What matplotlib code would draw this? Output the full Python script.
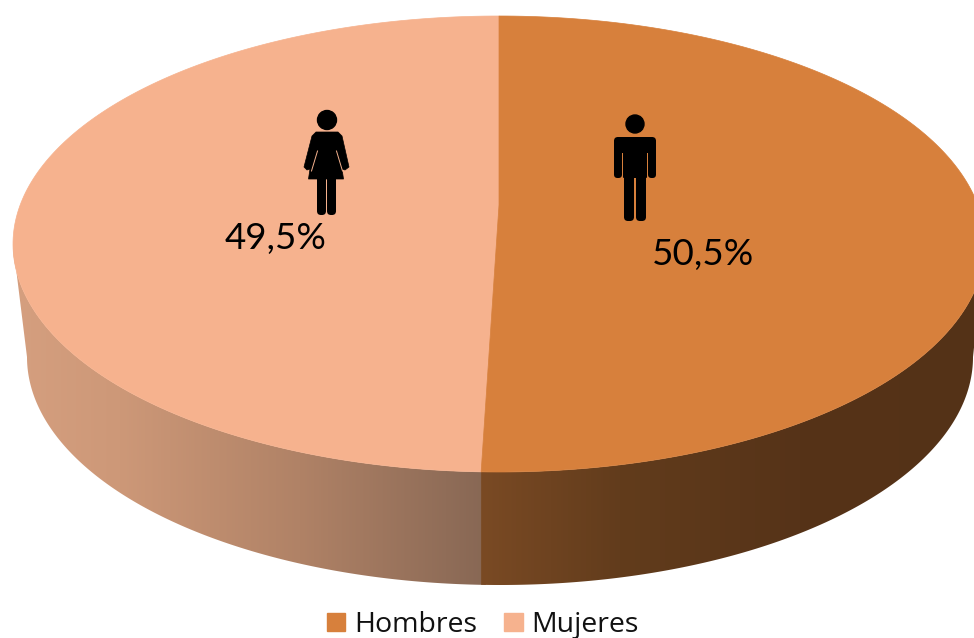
import numpy as np
from matplotlib import pyplot as plt
from matplotlib.patches import Circle, FancyBboxPatch, Polygon, Rectangle

categories = ['Hombres', 'Mujeres']
values = [50.5, 49.5]
labels = ['50,5%', '49,5%']
top_colors = ['#D7803C', '#F6B28E']

plt.rcParams['font.family'] = ['Lato', 'DejaVu Sans']

fig = plt.figure(figsize=(9.74, 6.38), dpi=100)
ax = fig.add_axes([0, 0, 1, 1])
ax.axis('off')

# pie geometry in pixels of the picture
cx, cy, rx, ry = 499, 244, 486, 228
apex_y = 205
low_cx, low_cy, low_rx = 500, 357, 473
persp = 1.17


def top_arc(a, b):
    t = np.linspace(a, b, 200)
    return np.column_stack([cx + rx * np.sin(t), cy - ry * np.cos(t)])


def low_arc(a, b):
    t = np.linspace(a, b, 200)
    return np.column_stack([low_cx + low_rx * np.sin(t), low_cy - ry * np.cos(t)])


# split angle, a bit wider at the front because of the perspective
split = np.pi + (values[0] / sum(values) * 2 * np.pi - np.pi) * persp
split_x = cx + rx * np.sin(split)
# same x on the lower rim so the wall seam stays vertical
low_split = np.pi - np.arcsin((split_x - low_cx) / low_rx)


def side_gradient(poly, xs, colors, z):
    patch = Polygon(poly, closed=True, facecolor='none', edgecolor='none')
    ax.add_patch(patch)
    x0, x1 = xs[0], xs[-1]
    grid = np.linspace(x0, x1, 300)
    rgb = np.array(colors) / 255.0
    img = np.stack([np.interp(grid, xs, rgb[:, i]) for i in range(3)], axis=1)[None, :, :]
    im = ax.imshow(img, extent=[x0, x1, 640, 0], aspect='auto', zorder=z, interpolation='bilinear')
    im.set_clip_path(patch)


# front wall, left part (Mujeres); runs a little under the right part so no seam shows
left_wall = np.vstack([top_arc(split - 0.01, 1.5 * np.pi), low_arc(1.5 * np.pi, low_split - 0.01)])
side_gradient(left_wall, [0, 120, 300, split_x + 6],
              [(214, 160, 128), (205, 152, 120), (176, 130, 102), (135, 103, 84)], 1)

# front wall, right part (Hombres)
right_wall = np.vstack([top_arc(0.5 * np.pi, split), low_arc(low_split, 0.5 * np.pi)])
side_gradient(right_wall, [split_x, 620, 800, 1000],
              [(122, 74, 36), (98, 60, 28), (86, 51, 24), (84, 50, 23)], 1.5)

# top face
hombres = np.vstack([top_arc(0, split), [[cx, apex_y]]])
mujeres = np.vstack([top_arc(split, 2 * np.pi), [[cx, apex_y]]])
ax.add_patch(Polygon(mujeres, closed=True, facecolor=top_colors[1], edgecolor=top_colors[1], lw=0.5, zorder=2))
ax.add_patch(Polygon(hombres, closed=True, facecolor=top_colors[0], edgecolor=top_colors[0], lw=0.5, zorder=2))


def bar(x0, y0, x1, y1, r=3):
    ax.add_patch(FancyBboxPatch((x0 + r, y0 + r), x1 - x0 - 2 * r, y1 - y0 - 2 * r,
                                boxstyle='round,pad=%g,rounding_size=%g' % (r, r),
                                facecolor='black', edgecolor='none', zorder=3))


# man icon
ax.add_patch(Circle((635, 124), 9, color='black', zorder=3))
bar(614, 137, 656, 153, 4)
bar(614, 140, 622, 178, 3.5)
bar(648, 140, 656, 178, 3.5)
bar(623, 140, 647, 178, 1)
bar(624, 170, 634, 221, 4)
bar(636, 170, 646, 221, 4)

# woman icon
ax.add_patch(Circle((327, 120), 9.5, color='black', zorder=3))
ax.add_patch(Polygon([(316, 132), (338, 132), (342, 136), (349, 167), (345, 170), (342, 169), (343.5, 179),
                      (308.5, 179), (310, 169), (307, 170), (304, 167), (312, 136)],
                     closed=True, facecolor='black', edgecolor='black', lw=0.5, joinstyle='round', zorder=3))
ax.plot([336.5, 342.5], [151, 171], color=top_colors[1], lw=0.7, zorder=4)
ax.plot([317.5, 311.5], [151, 171], color=top_colors[1], lw=0.7, zorder=4)
bar(317, 175, 326, 215, 4)
bar(327, 175, 336, 215, 4)

# data labels
ax.text(703, 254, labels[0], fontsize=26.5, ha='center', va='center', color='black', zorder=5)
ax.text(275.5, 239, labels[1], fontsize=26.5, ha='center', va='center', color='black', zorder=5)

# legend
handles = [Rectangle((0, 0), 1, 1, color=c) for c in top_colors]
ax.legend(handles, categories, loc='center', bbox_to_anchor=(483 / 974, 1 - 625 / 638),
          ncol=2, frameon=False, handlelength=0.64, handleheight=0.64,
          handletextpad=0.32, columnspacing=0.95, labelcolor='#111111', borderpad=0,
          prop={'family': 'Open Sans', 'size': 20.5})

ax.set_xlim(0, 974)
ax.set_ylim(638, 0)
fig.savefig('out.png', dpi=100, facecolor='white')
